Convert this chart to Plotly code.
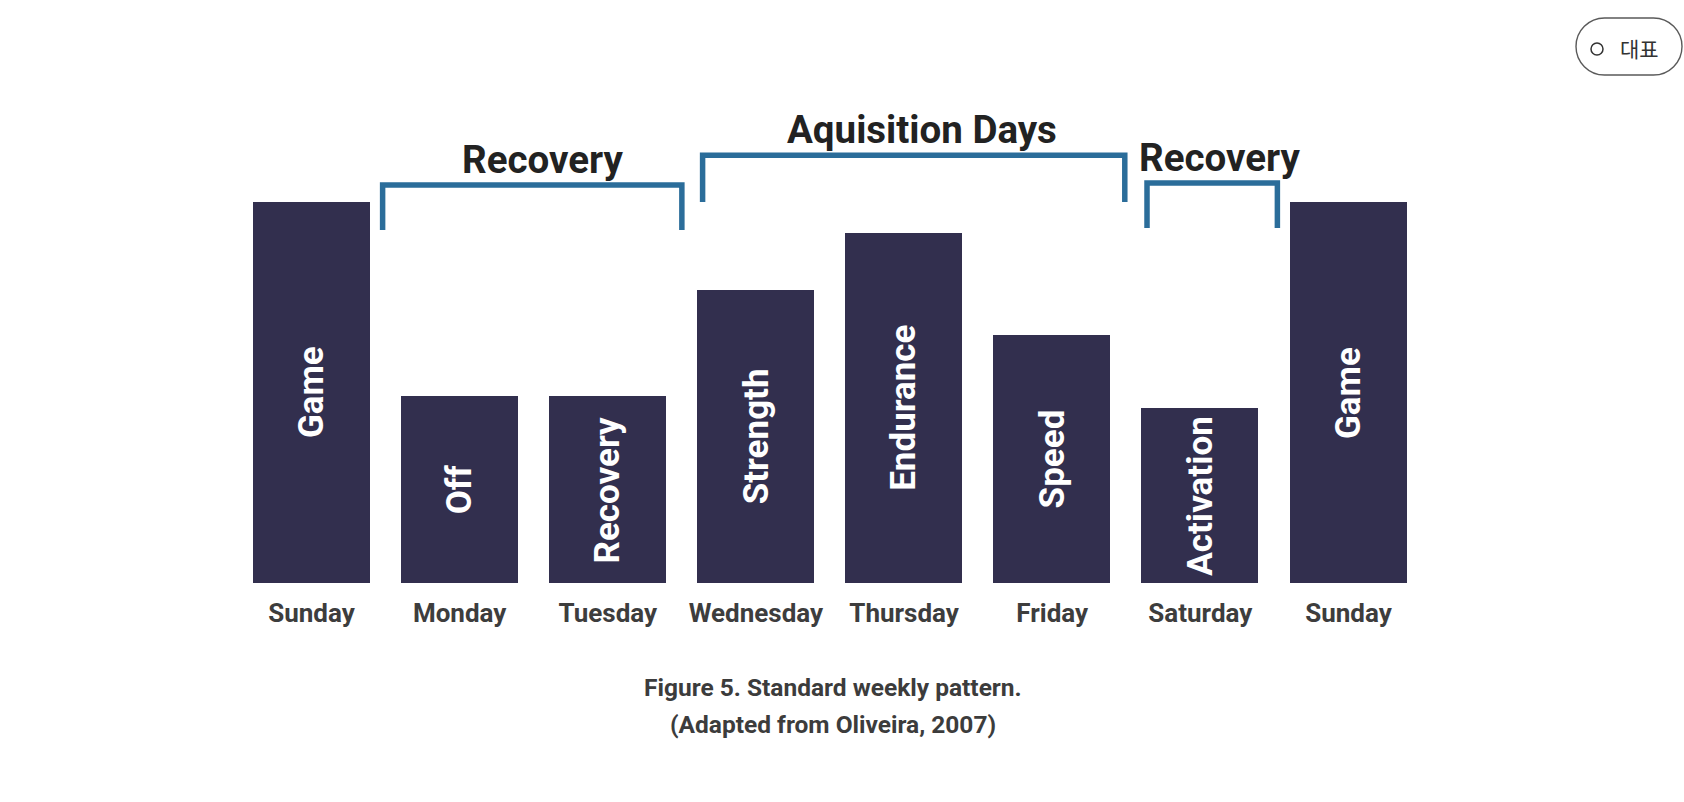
import plotly.graph_objects as go

# ---------------- data ----------------
days = ["Sunday", "Monday", "Tuesday", "Wednesday", "Thursday", "Friday", "Saturday", "Sunday"]
sessions = ["Game", "Off", "Recovery", "Strength", "Endurance", "Speed", "Activation", "Game"]
load = [100, 49, 49, 77, 92, 65, 46, 100]

# bracket groups: label, span in category positions, height levels
group_labels = ["Recovery", "Aquisition Days", "Recovery"]
group_left = [0.48, 2.64, 5.64]
group_right = [2.50, 5.49, 6.52]
group_top = [104.5, 112.3, 105.0]
group_foot = [92.7, 100.0, 93.2]
group_text_x = [1.56, 4.12, 6.13]
group_text_y = [111.2, 119.0, 111.7]

caption_lines = ["Figure 5. Standard weekly pattern.", "(Adapted from Oliveira, 2007)"]

W, H = 1684, 802
BAR = "#322f4e"
BLUE = "#2b6d9a"
FONT = "Roboto"

x_idx = list(range(len(days)))

fig = go.Figure()
fig.add_trace(go.Bar(
    x=x_idx, y=load, width=0.79,
    marker=dict(color=BAR, line=dict(width=0)),
    hoverinfo="skip", showlegend=False,
))

# session labels inside bars
for i, (s, v) in enumerate(zip(sessions, load)):
    fig.add_annotation(x=i, y=v / 2, text=f"<b>{s}</b>", textangle=-90,
                       showarrow=False, xref="x", yref="y",
                       xanchor="center", yanchor="middle",
                       font=dict(family=FONT, size=35, color="white"))

# brackets
for lab, l, r, t, f, tx, ty in zip(group_labels, group_left, group_right, group_top,
                                   group_foot, group_text_x, group_text_y):
    fig.add_shape(type="path", xref="x", yref="y",
                  path=f"M {l},{f} L {l},{t} L {r},{t} L {r},{f}",
                  line=dict(color=BLUE, width=5.5))
    fig.add_annotation(x=tx, y=ty, text=f"<b>{lab}</b>", showarrow=False,
                       xref="x", yref="y", xanchor="center", yanchor="middle",
                       font=dict(family=FONT, size=38.5, color="#222222"))

# caption
for line, py in zip(caption_lines, [687, 724]):
    fig.add_annotation(x=833 / W, y=1 - py / H, xref="paper", yref="paper",
                       xanchor="center", yanchor="middle",
                       text=f"<b>{line}</b>", showarrow=False,
                       font=dict(family=FONT, size=24.5, color="#3c3c3c"))

# top-right pill button
def px(x):
    return x / W

def py_(y):
    return 1 - y / H

x0, x1, y0, y1 = 1576, 1682, 18, 75
r = (y1 - y0) / 2
k = 0.5523 * r
pts = [
    f"M {px(x0 + r)},{py_(y0)}",
    f"L {px(x1 - r)},{py_(y0)}",
    f"C {px(x1 - r + k)},{py_(y0)} {px(x1)},{py_(y0 + r - k)} {px(x1)},{py_(y0 + r)}",
    f"C {px(x1)},{py_(y0 + r + k)} {px(x1 - r + k)},{py_(y1)} {px(x1 - r)},{py_(y1)}",
    f"L {px(x0 + r)},{py_(y1)}",
    f"C {px(x0 + r - k)},{py_(y1)} {px(x0)},{py_(y0 + r + k)} {px(x0)},{py_(y0 + r)}",
    f"C {px(x0)},{py_(y0 + r - k)} {px(x0 + r - k)},{py_(y0)} {px(x0 + r)},{py_(y0)} Z",
]
fig.add_shape(type="path", xref="paper", yref="paper", path=" ".join(pts),
              line=dict(color="#5a5a5a", width=1.4), fillcolor="white", layer="above")
fig.add_shape(type="circle", xref="paper", yref="paper",
              x0=px(1591), x1=px(1603), y0=py_(55), y1=py_(43),
              line=dict(color="#333333", width=1.5))
fig.add_annotation(x=px(1639), y=py_(48), xref="paper", yref="paper", text="대표",
                   xanchor="center", yanchor="middle",
                   showarrow=False, font=dict(family="Noto Sans CJK KR", size=21, color="#333333"))

fig.update_layout(
    width=W, height=H,
    margin=dict(l=0, r=0, t=0, b=0),
    paper_bgcolor="white", plot_bgcolor="white",
    bargap=0,
    xaxis=dict(domain=[237.45 / W, 1422.55 / W], range=[-0.5, 7.5],
               tickvals=x_idx, ticktext=[f"<b>{d}</b>" for d in days],
               tickfont=dict(family=FONT, size=26, color="#3d3d3d"),
               showgrid=False, zeroline=False, showline=False, ticks="",
               ticklabelstandoff=12, fixedrange=True),
    yaxis=dict(domain=[1 - 583 / H, 1 - 100 / H], range=[0, 126.8],
               showgrid=False, zeroline=False, showline=False,
               showticklabels=False, ticks="", fixedrange=True),
)

fig.write_html("out.html", config={"displayModeBar": False},
               post_script="document.body.style.margin='0';document.body.style.overflow='hidden';")
